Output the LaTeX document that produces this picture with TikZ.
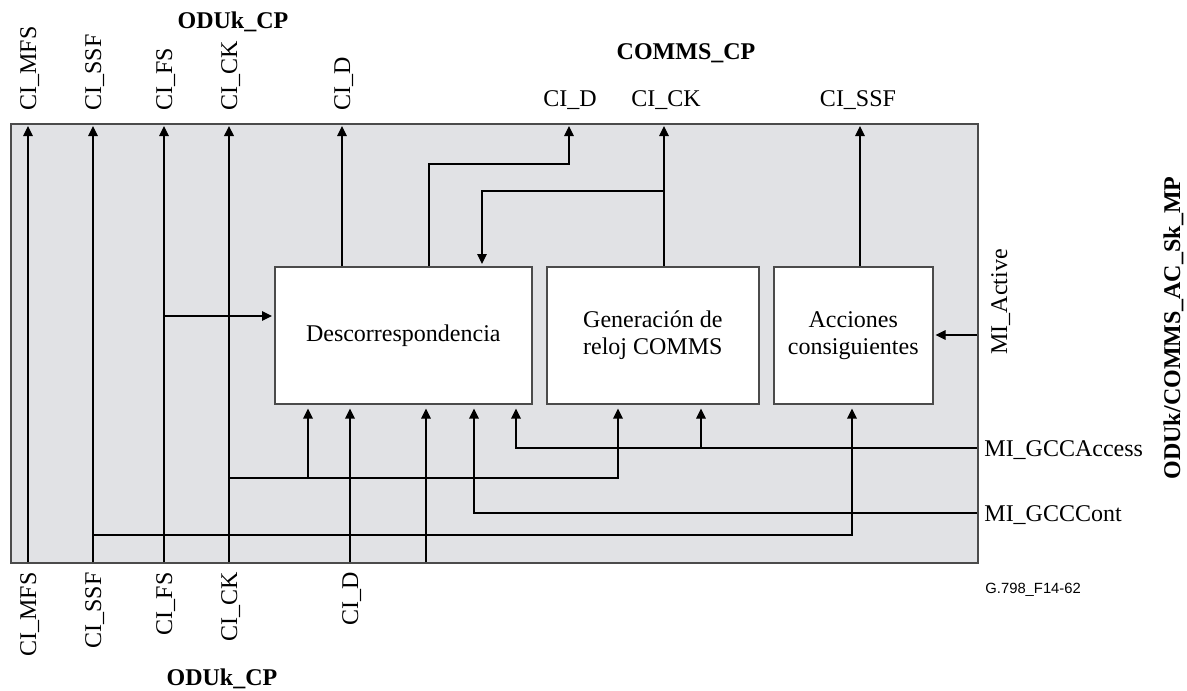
\documentclass[tikz,border=0pt]{standalone}
\usepackage{fontspec}
\setmainfont{Liberation Serif}
\setsansfont{Liberation Sans}
\usetikzlibrary{arrows.meta}
\definecolor{boxgray}{RGB}{225,226,229}
\definecolor{edgegray}{RGB}{75,75,75}
\begin{document}
\begin{tikzpicture}[x=0.5pt,y=-0.5pt,
  lbl/.style={font=\fontsize{12}{13.5}\selectfont, inner sep=0pt},
  blbl/.style={font=\fontsize{12}{13.5}\selectfont\bfseries, inner sep=0pt},
  vlbl/.style={lbl, rotate=90},
  mainbox/.style={draw=edgegray, line width=0.9pt, fill=boxgray, anchor=north west, inner sep=0pt},
  fbox/.style={draw=edgegray, line width=0.8pt, fill=white, anchor=north west, inner sep=0pt, minimum height=68.5pt, align=center, font=\fontsize{12}{13.5}\selectfont},
  conn/.style={line width=0.55pt, draw=black},
  thk/.style={line width=0.8pt, draw=black},
  arr/.style={-{Triangle[length=5pt,width=4.8pt]}},
]
\useasboundingbox (0,0) rectangle (1187,690);
\fill[white] (0,0) rectangle (1187,690);

% main box
\node[mainbox, minimum width=483.5pt, minimum height=219.5pt] (main) at (10,123) {};

% function blocks
\node[fbox, minimum width=128.5pt] (desc) at (274,266) {};
\node[lbl] at (desc.center) {Descorrespondencia};
\node[fbox, minimum width=106pt] (gen) at (546,266) {};
\node[lbl, align=center] (gent) at (gen.center) {Generación de\\reloj COMMS};
\node[fbox, minimum width=79.5pt] (acc) at (773,266) {};
\node[lbl, align=center] (acct) at (acc.center) {Acciones\\consiguientes};

% coordinates on the main box edges
\foreach \n/\x in {mfs/28, ssf/93, fs/164, ck/229, dt/342, cd/569, cck/664, cssf/860}
  \coordinate (\n T) at (\x,126);
\foreach \n/\x in {mfs/28, ssf/93, fs/164, ck/229, db/350, dx/426}
  \coordinate (\n B) at (\x,562);
\coordinate (actR) at (977,335);
\coordinate (accR) at (977,448);
\coordinate (conR) at (977,513);

% ODUk_CP straight-through signals
\draw[conn,arr] (mfsB) -- (mfsT);
\draw[conn,arr] (ssfB) -- (ssfT);
\draw[conn,arr] (fsB) -- (fsT);
\draw[thk,arr] (ckB) -- (ckT);

% CI_FS into Descorrespondencia
\draw[conn,arr,shorten >=1pt] (164,316) -- (desc.west |- 0,316);

% CI_CK distribution
\draw[thk,arr,shorten >=2pt] (229,478) -- (618,478) -- (gen.south -| 618,0);
\draw[thk,arr,shorten >=2pt] (308,478) -- (desc.south -| 308,0);

% CI_D from bottom and other bottom input
\draw[thk,arr,shorten >=2pt] (dbB) -- (desc.south -| 350,0);
\draw[conn,arr,shorten >=2pt] (dxB) -- (desc.south -| 426,0);

% outputs of Descorrespondencia
\draw[conn,arr] (desc.north -| 342,0) -- (dtT);
\draw[conn,arr] (desc.north -| 429,0) -- (429,164) -- (569,164) -- (cdT);

% COMMS clock
\draw[conn,arr] (gen.north -| 664,0) -- (cckT);
\draw[conn,arr,shorten >=1pt] (664,191) -- (482,191) -- (desc.north -| 482,0);

% Acciones output
\draw[conn,arr] (acc.north -| 860,0) -- (cssfT);

% MI_Active
\draw[conn,arr,shorten >=1pt] (actR) -- (acc.east |- actR);

% MI_GCCAccess
\draw[thk,arr,shorten >=2pt] (accR) -- (516,448) -- (desc.south -| 516,0);
\draw[conn,arr,shorten >=2pt] (701,448) -- (gen.south -| 701,0);

% MI_GCCCont
\draw[thk,arr,shorten >=2pt] (conR) -- (474,513) -- (desc.south -| 474,0);

% CI_SSF to Acciones
\draw[thk,arr,shorten >=2pt] (93,535) -- (852,535) -- (acc.south -| 852,0);

% top labels ODUk_CP
\node[vlbl, anchor=base west] (tMFS) at (36,111) {CI\_MFS};
\node[vlbl, anchor=base west] (tSSF) at (101,111) {CI\_SSF};
\node[vlbl, anchor=base west] (tFS) at (172,111) {CI\_FS};
\node[vlbl, anchor=base west] (tCK) at (237,111) {CI\_CK};
\node[vlbl, anchor=base west] (tD) at (350,111) {CI\_D};
\node[blbl, anchor=base] (oduT) at (233,29) {ODUk\_CP};

% bottom labels ODUk_CP
\node[vlbl, anchor=base east] (bMFS) at (36,572) {CI\_MFS};
\node[vlbl, anchor=base east] (bSSF) at (101,572) {CI\_SSF};
\node[vlbl, anchor=base east] (bFS) at (172,572) {CI\_FS};
\node[vlbl, anchor=base east] (bCK) at (237,572) {CI\_CK};
\node[vlbl, anchor=base east] (bD) at (358,572) {CI\_D};
\node[blbl, anchor=base] (oduB) at (222,685) {ODUk\_CP};

% COMMS_CP labels
\node[blbl, anchor=base] (comms) at (686,60) {COMMS\_CP};
\node[lbl, anchor=base] (cD) at (570,106) {CI\_D};
\node[lbl, anchor=base] (cCK) at (666,106) {CI\_CK};
\node[lbl, anchor=base] (cSSF) at (858,106) {CI\_SSF};

% management labels
\node[vlbl, anchor=base west] (mact) at (1007,355) {MI\_Active};
\node[lbl, anchor=base west] (macc) at (984,456) {MI\_GCCAccess};
\node[lbl, anchor=base west] (mcon) at (984,521) {MI\_GCCCont};
\node[blbl, rotate=90, anchor=base] (mp) at (1180,328) {ODUk/COMMS\_AC\_Sk\_MP};

% figure id
\node[anchor=base west, inner sep=0pt, font=\fontsize{7.4}{9}\selectfont\sffamily] (fid) at (985,593) {G.798\_F14-62};
\end{tikzpicture}
\end{document}
